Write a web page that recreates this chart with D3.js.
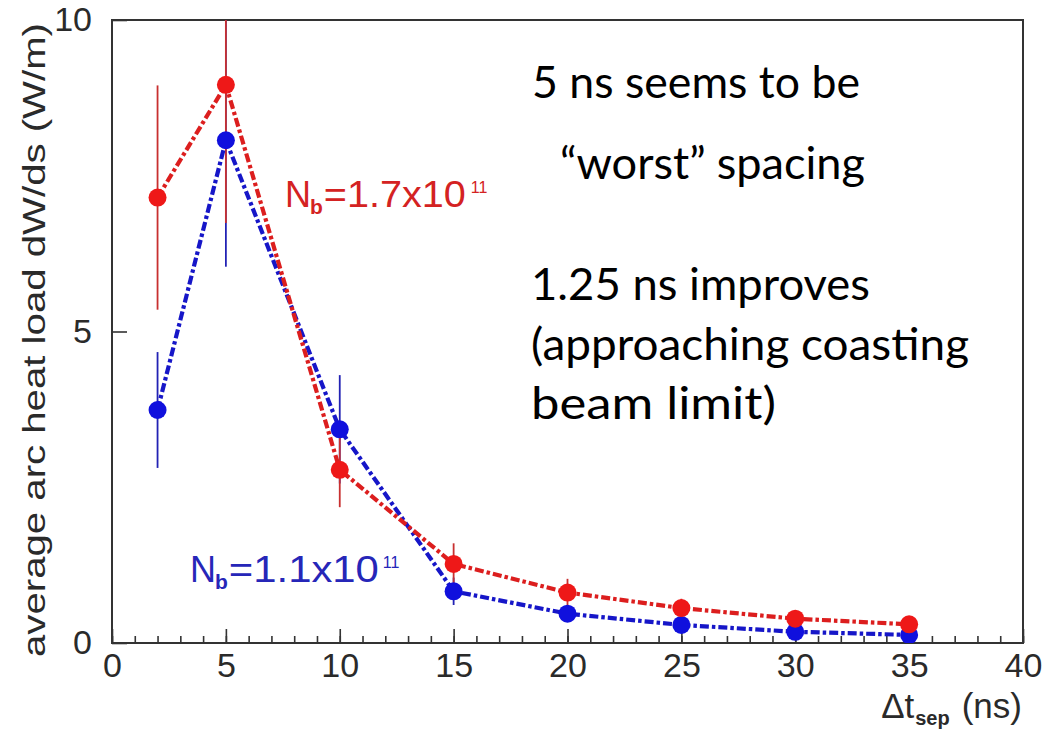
<!DOCTYPE html>
<html>
<head>
<meta charset="utf-8">
<script src="https://cdn.jsdelivr.net/npm/d3@7"></script>
<style>
  html, body { margin: 0; padding: 0; background: #fff; }
  svg { display: block; }
</style>
</head>
<body>
<svg id="chart" width="1046" height="736"></svg>
<script>
// ---- data ----
const spacing = [2, 5, 10, 15, 20, 25, 30, 35];              // Δt_sep (ns)
const heatHigh = [7.15, 8.96, 2.78, 1.27, 0.81, 0.56, 0.39, 0.30]; // Nb = 1.7e11
const errHigh  = [1.80, 2.22, 0.60, 0.33, 0.22, 0.15, 0.10, 0.08];
const heatLow  = [3.74, 8.07, 3.43, 0.83, 0.47, 0.29, 0.18, 0.13]; // Nb = 1.1e11
const errLow   = [0.93, 2.03, 0.87, 0.22, 0.13, 0.08, 0.05, 0.04];
const xMajorTicks = [0, 5, 10, 15, 20, 25, 30, 35, 40];
const xMinorTicks = d3.range(0, 41, 1);
const yMajorTicks = [0, 5, 10];
const notes = ["5 ns seems to be", "\u201Cworst\u201D spacing", "1.25 ns improves", "(approaching coasting", "beam limit)"];

// ---- layout ----
const svg = d3.select("#chart");
const L = 112, R = 1023, T = 20, B = 643;
const x = d3.scaleLinear().domain([0, 40]).range([L, R]);
const y = d3.scaleLinear().domain([0, 10]).range([B, T]);

const rootFont = "'Liberation Sans', Arial, Helvetica, sans-serif";
const axisColor = "#333";
const textColor = "#2a2a2a";

svg.append("defs").append("clipPath").attr("id", "plotclip")
  .append("rect").attr("x", L).attr("y", T).attr("width", R - L).attr("height", B - T);

// x axis: minor ticks
svg.append("g").attr("transform", `translate(0,${B})`)
  .call(d3.axisBottom(x).tickValues(xMinorTicks).tickSize(-7).tickFormat(""))
  .call(g => g.select(".domain").remove())
  .call(g => g.selectAll("line").attr("stroke", axisColor).attr("stroke-width", 1.6));

// x axis: major ticks + labels
svg.append("g").attr("transform", `translate(0,${B})`)
  .call(d3.axisBottom(x).tickValues(xMajorTicks).tickSize(-14).tickPadding(10).tickFormat(d3.format("d")))
  .call(g => g.select(".domain").remove())
  .call(g => g.selectAll("line").attr("stroke", axisColor).attr("stroke-width", 1.6))
  .call(g => g.selectAll("text").attr("font-family", rootFont).attr("font-size", 34).attr("fill", textColor));

// y axis
svg.append("g").attr("transform", `translate(${L},0)`)
  .call(d3.axisLeft(y).tickValues(yMajorTicks).tickSize(-15).tickPadding(20).tickFormat(d3.format("d")))
  .call(g => g.select(".domain").remove())
  .call(g => g.selectAll("line").attr("stroke", axisColor).attr("stroke-width", 1.6))
  .call(g => g.selectAll("text").attr("font-family", rootFont).attr("font-size", 34).attr("fill", textColor));

// frame
svg.append("rect").attr("x", L).attr("y", T).attr("width", R - L).attr("height", B - T)
  .attr("fill", "none").attr("stroke", axisColor).attr("stroke-width", 2);

// y title
svg.append("text")
  .attr("transform", `translate(45,657) rotate(-90)`)
  .attr("font-family", rootFont).attr("font-size", 32).attr("fill", textColor)
  .attr("textLength", 634).attr("lengthAdjust", "spacingAndGlyphs")
  .text("average arc heat load dW/ds (W/m)");

// x title: Δt_sep (ns)
const xt = svg.append("text").attr("x", 1022).attr("y", 718).attr("text-anchor", "end")
  .attr("font-family", rootFont).attr("font-size", 35).attr("fill", textColor);
xt.append("tspan").text("\u0394t");
xt.append("tspan").attr("font-size", 20).attr("font-weight", "bold").attr("dy", 7).attr("dx", 1).text("sep");
xt.append("tspan").attr("dy", -7).attr("dx", 12).text("(ns)");

// series
const series = [
  { vals: heatLow, errs: errLow, line: "#1616c8", mark: "#1010dd", bar: "#2222b4" },
  { vals: heatHigh, errs: errHigh, line: "#dc1e1e", mark: "#ee1818", bar: "#c83030" }
];

const plot = svg.append("g").attr("clip-path", "url(#plotclip)");

series.forEach(s => {
  plot.append("g").selectAll("line").data(spacing).join("line")
    .attr("x1", (d) => x(d)).attr("x2", (d) => x(d))
    .attr("y1", (d, i) => y(s.vals[i] + s.errs[i]))
    .attr("y2", (d, i) => y(s.vals[i] - s.errs[i]))
    .attr("stroke", s.bar).attr("stroke-width", 1.8);
});

const lineGen = d3.line().x((d) => x(d[0])).y((d) => y(d[1]));
series.forEach(s => {
  plot.append("path").datum(spacing.map((d, i) => [d, s.vals[i]]))
    .attr("d", lineGen).attr("fill", "none")
    .attr("stroke", s.line).attr("stroke-width", 4.2)
    .attr("stroke-dasharray", "9,3,3.5,3");
});

series.forEach(s => {
  plot.append("g").selectAll("circle").data(spacing).join("circle")
    .attr("cx", (d) => x(d)).attr("cy", (d, i) => y(s.vals[i]))
    .attr("r", 9).attr("fill", s.mark);
});

// series labels
function nbLabel(px, py, mainLen, exp, color, supDx) {
  const t = svg.append("text").attr("x", px).attr("y", py)
    .attr("font-family", rootFont).attr("font-size", 36).attr("fill", color);
  t.append("tspan").text("N");
  t.append("tspan").attr("font-size", 21).attr("font-weight", "bold").attr("dy", 7).attr("dx", -1).text("b");
  t.append("tspan").attr("dy", -7).attr("dx", 1).attr("textLength", mainLen).attr("lengthAdjust", "spacingAndGlyphs").text(exp);
  t.append("tspan").attr("font-size", 16).attr("dy", -14).attr("dx", supDx).text("11");
}
nbLabel(285, 207, 142, "=1.7x10", "#d42222", 5);
nbLabel(190, 582, 150, "=1.1x10", "#2626b8", 4);

// annotation text (slide overlay)
const noteFont = "Lato, 'Open Sans', 'Liberation Sans', sans-serif";
const notePos = [
  { x: 532, y: 98, len: 328 },
  { x: 560, y: 179, len: 305 },
  { x: 531, y: 300, len: 339 },
  { x: 531, y: 360, len: 438 },
  { x: 531, y: 419, len: 245 }
];
svg.append("g").selectAll("text").data(notes).join("text")
  .attr("x", (d, i) => notePos[i].x).attr("y", (d, i) => notePos[i].y)
  .attr("textLength", (d, i) => notePos[i].len).attr("lengthAdjust", "spacingAndGlyphs")
  .attr("font-family", noteFont).attr("font-size", 44).attr("fill", "#000")
  .text(d => d);
</script>
</body>
</html>
